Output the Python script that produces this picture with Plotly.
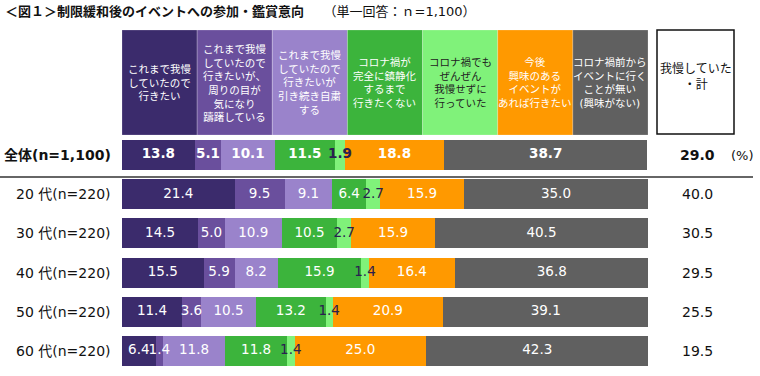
import plotly.graph_objects as go

W, H = 760, 376

categories = ["全体(n=1,100)", "20 代(n=220)", "30 代(n=220)", "40 代(n=220)", "50 代(n=220)", "60 代(n=220)"]
series_names = [
    "これまで我慢<br>していたので<br>行きたい",
    "これまで我慢<br>していたので<br>行きたいが、<br>周りの目が<br>気になり<br>躊躇している",
    "これまで我慢<br>していたので<br>行きたいが<br>引き続き自粛<br>する",
    "コロナ禍が<br>完全に鎮静化<br>するまで<br>行きたくない",
    "コロナ禍でも<br>ぜんぜん<br>我慢せずに<br>行っていた",
    "今後<br>興味のある<br>イベントが<br>あれば行きたい",
    "コロナ禍前から<br>イベントに行く<br>ことが無い<br>(興味がない)",
]
s1 = [13.8, 21.4, 14.5, 15.5, 11.4, 6.4]
s2 = [5.1, 9.5, 5.0, 5.9, 3.6, 1.4]
s3 = [10.1, 9.1, 10.9, 8.2, 10.5, 11.8]
s4 = [11.5, 6.4, 10.5, 15.9, 13.2, 11.8]
s5 = [1.9, 2.7, 2.7, 1.4, 1.4, 1.4]
s6 = [18.8, 15.9, 15.9, 16.4, 20.9, 25.0]
s7 = [38.7, 35.0, 40.5, 36.8, 39.1, 42.3]
totals = [29.0, 40.0, 30.5, 29.5, 25.5, 19.5]
total_header = "我慢していた<br>・計"

series = [s1, s2, s3, s4, s5, s6, s7]
colors = ["#3b2b6c", "#6a4f9d", "#9a83cb", "#3cb43c", "#80f27a", "#ff9900", "#606060"]
text_colors = ["white", "white", "white", "white", "#2a2050", "white", "white"]

FONT = "DejaVu Sans, Noto Sans CJK JP, sans-serif"

def px_x(p):
    return p / W

def px_y(p):
    return 1 - p / H

fig = go.Figure()
for i, vals in enumerate(series):
    fig.add_trace(go.Bar(
        y=categories, x=vals, orientation="h",
        marker=dict(color=colors[i], line=dict(width=0)),
        width=0.765, showlegend=False, hoverinfo="skip",
    ))

# value labels drawn on top of all bars (centred in each segment)
cum = [0.0] * len(categories)
for i, vals in enumerate(series):
    mids = []
    texts = []
    for j, v in enumerate(vals):
        mids.append(cum[j] + v / 2)
        cum[j] += v
        t = f"{v:.1f}"
        texts.append(f"<b>{t}</b>" if j == 0 else t)
    fig.add_trace(go.Scatter(
        x=mids, y=categories, mode="text", text=texts,
        textposition="middle center",
        textfont=dict(color=text_colors[i], size=13.5, family=FONT),
        showlegend=False, hoverinfo="skip", cliponaxis=False,
    ))

x0p, x1p = 122, 648
fig.update_layout(
    width=W, height=H, barmode="stack",
    margin=dict(l=0, r=0, t=0, b=0),
    paper_bgcolor="white", plot_bgcolor="white",
    font=dict(family=FONT, color="#222"),
    xaxis=dict(domain=[px_x(x0p), px_x(x1p)], range=[0, 100], visible=False, fixedrange=True),
    yaxis=dict(domain=[px_y(370.6), px_y(135.4)], type="category",
               categoryorder="array", categoryarray=categories,
               range=[5.5, -0.5], visible=False, fixedrange=True),
)

shapes = []
annotations = []
for i, name in enumerate(series_names):
    shapes.append(dict(type="rect", xref="x", yref="paper",
                       x0=i * 100 / 7, x1=(i + 1) * 100 / 7,
                       y0=px_y(135), y1=px_y(30),
                       fillcolor=colors[i], line=dict(width=0.6, color="rgba(255,255,255,0.35)"),
                       layer="below"))
    annotations.append(dict(xref="x", yref="paper", x=(i + 0.5) * 100 / 7, y=px_y(82.5),
                            text=name, showarrow=False, xanchor="center", yanchor="middle",
                            align="center",
                            font=dict(size=10.5, color=text_colors[i] if i != 4 else "#222", family=FONT)))
shapes.append(dict(type="rect", xref="paper", yref="paper",
                   x0=px_x(657), x1=px_x(734), y0=px_y(134), y1=px_y(30),
                   fillcolor="white", line=dict(width=1.5, color="#111")))
annotations.append(dict(xref="paper", yref="paper", x=px_x(695.5), y=px_y(77),
                        text=total_header, showarrow=False, align="center",
                        xanchor="center", yanchor="middle",
                        font=dict(size=12, color="#111", family=FONT)))
shapes.append(dict(type="line", xref="paper", yref="paper", x0=0, x1=px_x(753),
                   y0=px_y(177), y1=px_y(177), line=dict(color="#333", width=1.5)))

for j, c in enumerate(categories):
    lab = f"<b>{c}</b>" if j == 0 else c
    annotations.append(dict(xref="paper", yref="y", x=px_x(113), y=c, text=lab,
                            showarrow=False, xanchor="right", yanchor="middle",
                            font=dict(size=14, color="#111", family=FONT)))
    tv = f"{totals[j]:.1f}"
    if j == 0:
        tv = f"<b>{tv}</b>"
    annotations.append(dict(xref="paper", yref="y", x=px_x(697), y=c, text=tv,
                            showarrow=False, xanchor="center", yanchor="middle",
                            font=dict(size=14, color="#111", family=FONT)))
annotations.append(dict(xref="paper", yref="y", x=px_x(742), y=categories[0], text="(%)",
                        showarrow=False, xanchor="center", yanchor="middle",
                        font=dict(size=13, color="#111", family=FONT)))

annotations.append(dict(xref="paper", yref="paper", x=px_x(3), y=px_y(12),
                        text="<b>＜図１＞制限緩和後のイベントへの参加・鑑賞意向</b>　　（単一回答：ｎ=1,100）",
                        showarrow=False, xanchor="left", yanchor="middle",
                        font=dict(size=13, color="#111", family=FONT)))

fig.update_layout(shapes=shapes, annotations=annotations)
fig.write_html("out.html", config={"displayModeBar": False},
               post_script="document.body.style.margin='0';document.body.style.padding='0';")
